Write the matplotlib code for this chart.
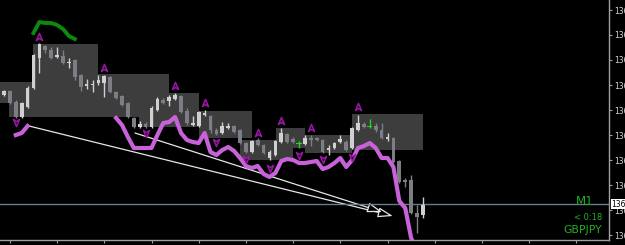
import matplotlib
matplotlib.use("Agg")
import matplotlib.pyplot as plt
import matplotlib.transforms as mtransforms
from matplotlib.patches import Rectangle, FancyArrowPatch
from matplotlib.path import Path
import numpy as np

# GBPJPY M1, 72 candles
opens = [136.8460, 136.8476, 136.8432, 136.8372, 136.8412, 136.8488, 136.8608, 136.8656, 136.8640, 136.8612,
         136.8616, 136.8588, 136.8600, 136.8540, 136.8496, 136.8500, 136.8508, 136.8508, 136.8532, 136.8472,
         136.8456, 136.8428, 136.8368, 136.8332, 136.8344, 136.8332, 136.8400, 136.8440, 136.8436, 136.8444,
         136.8456, 136.8396, 136.8340, 136.8336, 136.8380, 136.8376, 136.8320, 136.8308, 136.8328, 136.8336,
         136.8320, 136.8268, 136.8232, 136.8280, 136.8260, 136.8208, 136.8220, 136.8272, 136.8304, 136.8284,
         136.8264, 136.8264, 136.8288, 136.8288, 136.8280, 136.8240, 136.8248, 136.8272, 136.8272, 136.8248,
         136.8320, 136.8344, 136.8332, 136.8336, 136.8320, 136.8284, 136.8288, 136.8196, 136.8120, 136.8120,
         136.7988, 136.7980]
highs = [136.8480, 136.8480, 136.8440, 136.8432, 136.8496, 136.8624, 136.8668, 136.8660, 136.8652, 136.8652,
         136.8640, 136.8608, 136.8604, 136.8544, 136.8524, 136.8520, 136.8540, 136.8540, 136.8536, 136.8476,
         136.8460, 136.8432, 136.8372, 136.8356, 136.8352, 136.8416, 136.8452, 136.8448, 136.8460, 136.8468,
         136.8460, 136.8408, 136.8376, 136.8396, 136.8400, 136.8380, 136.8328, 136.8352, 136.8348, 136.8340,
         136.8324, 136.8272, 136.8280, 136.8288, 136.8264, 136.8240, 136.8280, 136.8328, 136.8308, 136.8292,
         136.8276, 136.8300, 136.8300, 136.8292, 136.8284, 136.8260, 136.8272, 136.8300, 136.8280, 136.8332,
         136.8380, 136.8352, 136.8364, 136.8348, 136.8348, 136.8308, 136.8292, 136.8200, 136.8128, 136.8140,
         136.8020, 136.8052]
lows = [136.8456, 136.8424, 136.8368, 136.8368, 136.8408, 136.8484, 136.8548, 136.8628, 136.8604, 136.8608,
        136.8584, 136.8568, 136.8520, 136.8476, 136.8484, 136.8472, 136.8500, 136.8452, 136.8468, 136.8444,
        136.8416, 136.8368, 136.8328, 136.8328, 136.8328, 136.8328, 136.8396, 136.8424, 136.8416, 136.8440,
        136.8388, 136.8340, 136.8336, 136.8332, 136.8376, 136.8308, 136.8300, 136.8304, 136.8324, 136.8308,
        136.8264, 136.8228, 136.8228, 136.8256, 136.8224, 136.8200, 136.8216, 136.8268, 136.8268, 136.8268,
        136.8248, 136.8260, 136.8256, 136.8276, 136.8228, 136.8220, 136.8244, 136.8268, 136.8236, 136.8244,
        136.8316, 136.8328, 136.8328, 136.8312, 136.8284, 136.8276, 136.8188, 136.8108, 136.8092, 136.7984,
        136.7908, 136.7968]
closes = [136.8476, 136.8428, 136.8372, 136.8428, 136.8488, 136.8620, 136.8664, 136.8640, 136.8608, 136.8620,
          136.8588, 136.8592, 136.8532, 136.8492, 136.8504, 136.8504, 136.8520, 136.8536, 136.8472, 136.8448,
          136.8420, 136.8372, 136.8332, 136.8344, 136.8332, 136.8408, 136.8444, 136.8428, 136.8452, 136.8460,
          136.8392, 136.8348, 136.8348, 136.8392, 136.8388, 136.8320, 136.8304, 136.8336, 136.8336, 136.8312,
          136.8268, 136.8232, 136.8276, 136.8260, 136.8228, 136.8232, 136.8276, 136.8308, 136.8272, 136.8272,
          136.8264, 136.8288, 136.8280, 136.8280, 136.8232, 136.8248, 136.8268, 136.8284, 136.8240, 136.8328,
          136.8348, 136.8332, 136.8332, 136.8320, 136.8288, 136.8292, 136.8192, 136.8112, 136.8112, 136.7988,
          136.7972, 136.8020]
bid = 136.8024

# violet indicator line (two pieces)
ma1_x = [2, 3, 4]
ma1_y = [136.8300, 136.8308, 136.8336]
ma2_x = list(range(19, 71))
ma2_y = [136.8368, 136.8340, 136.8292, 136.8248, 136.8248, 136.8248, 136.8248, 136.8300, 136.8348, 136.8352,
         136.8372, 136.8308, 136.8280, 136.8272, 136.8268, 136.8308, 136.8232, 136.8220, 136.8240, 136.8252,
         136.8236, 136.8208, 136.8176, 136.8168, 136.8176, 136.8144, 136.8132, 136.8148, 136.8196, 136.8204,
         136.8200, 136.8188, 136.8188, 136.8192, 136.8196, 136.8164, 136.8172, 136.8188, 136.8208, 136.8172,
         136.8200, 136.8248, 136.8256, 136.8268, 136.8248, 136.8208, 136.8208, 136.8172, 136.8036, 136.8008,
         136.7888, 136.7840]

# green arc at the top
grn_x = [5, 6, 7, 8, 9, 10, 11, 12]
grn_y = [136.8708, 136.8752, 136.8748, 136.8748, 136.8740, 136.8724, 136.8696, 136.8684]

# fractal arrows
up_x = [6, 17, 29, 34, 43, 47, 52, 60]
up_y = [136.8692, 136.8568, 136.8496, 136.8428, 136.8308, 136.8356, 136.8328, 136.8412]
dn_x = [2, 24, 36, 41, 45, 50, 54, 59]
dn_y = [136.8352, 136.8308, 136.8272, 136.8204, 136.8168, 136.8220, 136.8204, 136.8212]

# range boxes
box_x0 = [-0.7, 0.85, 4.9, 15.9, 22.9, 33, 40, 46.1, 51, 59]
box_x1 = [4.9, 22.9, 15.9, 28, 33, 42, 49, 51, 59, 71]
box_top = [136.8512, 136.8512, 136.8664, 136.8544, 136.8468, 136.8396, 136.8280, 136.8328, 136.8300, 136.8384]
box_bot = [136.8428, 136.8372, 136.8372, 136.8372, 136.8332, 136.8288, 136.8200, 136.8248, 136.8228, 136.8240]

# trend lines (start -> arrow end)
tl_x0 = [4.24, 22.2]
tl_y0 = [136.8336, 136.8308]
tl_x1 = [65.9, 64.1]
tl_y1 = [136.7976, 136.7992]

yticks = [136.880, 136.870, 136.860, 136.850, 136.840, 136.830, 136.820, 136.810, 136.800, 136.790]

fig = plt.figure(figsize=(6.25, 2.45), dpi=100, facecolor='black')
ax = fig.add_axes([0, 5/245, 609/625, 240/245], facecolor='black')

for x0, x1, t, b in zip(box_x0, box_x1, box_top, box_bot):
    ax.add_patch(Rectangle((x0, b), x1 - x0, t - b, facecolor='#3d3d3d', edgecolor='none', zorder=1))

for x0, y0, x1, y1 in zip(tl_x0, tl_y0, tl_x1, tl_y1):
    ax.add_patch(FancyArrowPatch((x0, y0), (x1, y1), arrowstyle='-|>,head_length=0.9,head_width=0.3',
                                 mutation_scale=10, fc='black', ec='#e6e6e6', lw=0.9,
                                 shrinkA=0, shrinkB=0, zorder=2))

o = np.array(opens)
c = np.array(closes)
idx = np.arange(len(o))
doji = c == o
cols = np.where(doji, '#1fd81f', np.where(c > o, '#d0d0d0', '#7d7d86'))
ax.vlines(idx, lows, highs, colors=cols, lw=1, zorder=3)
ax.bar(idx, np.maximum(np.abs(c - o), 0.0004), bottom=np.minimum(o, c),
       width=np.where(doji, 0.9, 0.64), color=cols, linewidth=0, zorder=3)

ax.plot(ma1_x, ma1_y, color='#c762d9', lw=3, zorder=4)
ax.plot(ma2_x, ma2_y, color='#c762d9', lw=3, zorder=4)
ax.plot(grn_x, grn_y, color='#0b8a0b', lw=2.8, zorder=4)

up_arrow = Path([(0, 1), (0.75, -0.75), (0, -0.25), (-0.75, -0.75), (0, 1)],
                [Path.MOVETO, Path.LINETO, Path.LINETO, Path.LINETO, Path.CLOSEPOLY])
dn_arrow = Path([(0, -1), (0.75, 0.75), (0, 0.25), (-0.75, 0.75), (0, -1)],
                [Path.MOVETO, Path.LINETO, Path.LINETO, Path.LINETO, Path.CLOSEPOLY])
ax.plot(up_x, up_y, ls='none', marker=up_arrow, ms=6, mfc='#3e0042', mec='#9a18a4', mew=1, zorder=5)
ax.plot(dn_x, dn_y, ls='none', marker=dn_arrow, ms=6, mfc='#3e0042', mec='#9a18a4', mew=1, zorder=5)

ax.axhline(bid, color='#6a7b8c', lw=1, zorder=2)

ax.set_xlim(-0.678, 102.54)
ax.set_ylim(136.788, 136.884)
for s in ['top', 'left']:
    ax.spines[s].set_visible(False)
for s in ['right', 'bottom']:
    ax.spines[s].set_color('#a0a0a0')
    ax.spines[s].set_linewidth(1)

ax.yaxis.tick_right()
ax.set_yticks(yticks)
ax.set_yticklabels(['%.3f' % v for v in yticks], fontsize=5.5, color='#d8d8d8')
ax.tick_params(axis='y', direction='out', length=2.5, width=0.8, color='#a0a0a0', pad=1)
ax.set_xticks(np.arange(1, 103, 8))
ax.set_xticklabels([])
ax.tick_params(axis='x', direction='out', length=2.5, width=0.8, color='#a0a0a0')

trans = mtransforms.blended_transform_factory(ax.transAxes, ax.transData)
ax.text(1.004, bid, '%.3f' % bid, transform=trans, ha='left', va='center', fontsize=5.5,
        color='black', bbox=dict(fc='white', ec='none', pad=0.6), clip_on=False)

ax.text(0.9606, 0.1625, 'M1', transform=ax.transAxes, ha='center', va='center', fontsize=8.5, color='#22b022')
ax.text(0.9885, 0.092, '< 0:18', transform=ax.transAxes, ha='right', va='center', fontsize=6, color='#22b022')
ax.text(0.9885, 0.040, 'GBPJPY', transform=ax.transAxes, ha='right', va='center', fontsize=7.8, color='#22b022')

fig.savefig('out.png', dpi=100, facecolor='black')
